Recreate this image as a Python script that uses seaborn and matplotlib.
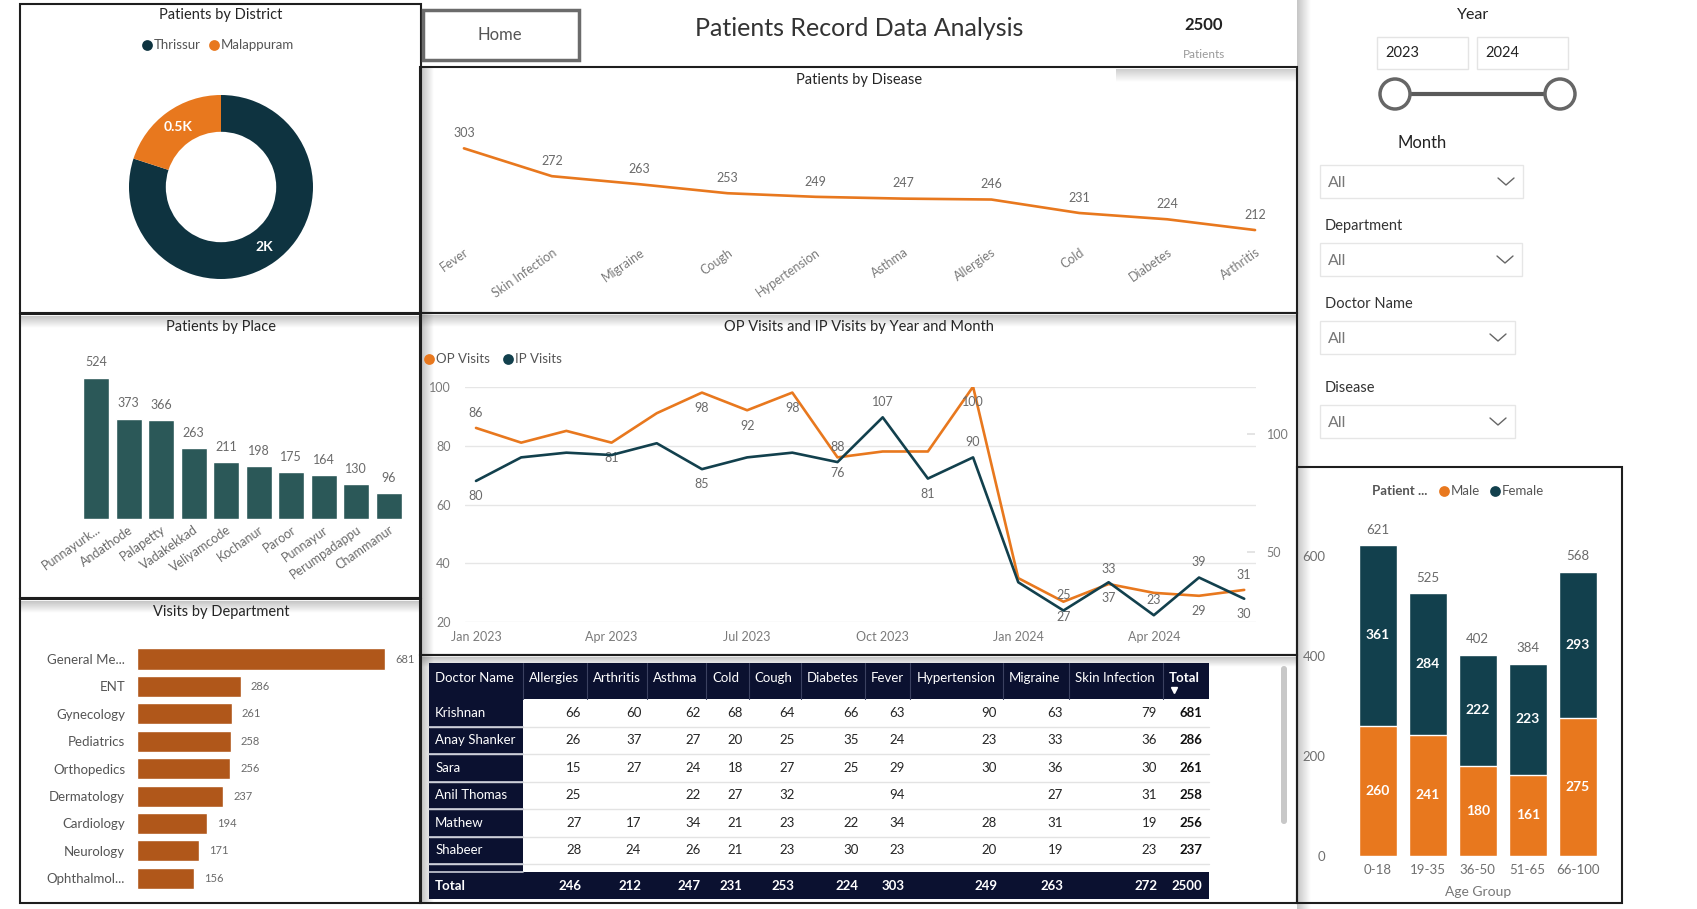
import numpy as np
import matplotlib
matplotlib.use("Agg")
import matplotlib.pyplot as plt
import seaborn as sns
from matplotlib.patches import Rectangle, Circle, FancyBboxPatch

# ---------------- data ----------------
DISTRICTS = ["Thrissur", "Malappuram"]
DISTRICT_PATIENTS = [2000, 500]

PLACES = ["Punnayurk...", "Andathode", "Palapetty", "Vadakekkad", "Veliyamcode",
          "Kochanur", "Paroor", "Punnayur", "Perumpadappu", "Chammanur"]
PLACE_PATIENTS = [524, 373, 366, 263, 211, 198, 175, 164, 130, 96]

DEPARTMENTS = ["General Me...", "ENT", "Gynecology", "Pediatrics", "Orthopedics",
               "Dermatology", "Cardiology", "Neurology", "Ophthalmol..."]
DEPT_VISITS = [681, 286, 261, 258, 256, 237, 194, 171, 156]

DISEASES = ["Fever", "Skin Infection", "Migraine", "Cough", "Hypertension",
            "Asthma", "Allergies", "Cold", "Diabetes", "Arthritis"]
DISEASE_PATIENTS = [303, 272, 263, 253, 249, 247, 246, 231, 224, 212]

MONTHS = ["Jan 2023", "Feb 2023", "Mar 2023", "Apr 2023", "May 2023", "Jun 2023",
          "Jul 2023", "Aug 2023", "Sep 2023", "Oct 2023", "Nov 2023", "Dec 2023",
          "Jan 2024", "Feb 2024", "Mar 2024", "Apr 2024", "May 2024", "Jun 2024"]
OP_VISITS = [86, 81, 85, 81, 91, 98, 92, 98, 76, 78, 78, 100, 35, 27, 33, 30, 29, 31]
IP_VISITS = [80, 90, 92, 91, 96, 85, 90, 92, 88, 107, 81, 90, 37, 25, 37, 23, 39, 30]
# which data labels Power BI shows: 1 above, -1 below, 0 hidden
OP_LABEL_SIDE = [1, 0, 0, -1, 0, -1, -1, -1, -1, 0, 0, -1, 0, -1, 1, 0, -1, 1]
IP_LABEL_SIDE = [-1, 0, 0, 0, 0, -1, 0, 0, 1, 1, -1, 1, 0, 1, -1, 1, 1, -1]

AGE_GROUPS = ["0-18", "19-35", "36-50", "51-65", "66-100"]
MALE = [260, 241, 180, 161, 275]
FEMALE = [361, 284, 222, 223, 293]

DOCTORS = ["Krishnan", "Anay Shanker", "Sara", "Anil Thomas", "Mathew", "Shabeer"]
TABLE_DISEASES = ["Allergies", "Arthritis", "Asthma", "Cold", "Cough", "Diabetes",
                  "Fever", "Hypertension", "Migraine", "Skin Infection"]
DOCTOR_COUNTS = [
    [66, 60, 62, 68, 64, 66, 63, 90, 63, 79],
    [26, 37, 27, 20, 25, 35, 24, 23, 33, 36],
    [15, 27, 24, 18, 27, 25, 29, 30, 36, 30],
    [25, None, 22, 27, 32, None, 94, None, 27, 31],
    [27, 17, 34, 21, 23, 22, 34, 28, 31, 19],
    [28, 24, 26, 21, 23, 30, 23, 20, 19, 23],
]
DISEASE_TOTALS = [246, 212, 247, 231, 253, 224, 303, 249, 263, 272]
GRAND_TOTAL = 2500

YEARS = ["2023", "2024"]

# ---------------- style ----------------
ORANGE = "#E8781E"
DARK = "#12404D"
DONUT_DARK = "#0E3340"
TEAL = "#2B5858"
BROWN = "#B0571A"
NAVY = "#0B1130"
GREY = "#6a6a6a"

sns.set_theme(style="white")
plt.rcParams["font.family"] = ["Lato", "DejaVu Sans"]

W, H = 1697, 909
fig = plt.figure(figsize=(W / 100, H / 100), dpi=100, facecolor="white")

cv = fig.add_axes([0, 0, 1, 1])
cv.set_xlim(0, W)
cv.set_ylim(H, 0)
cv.axis("off")


def px_axes(x0, y0, x1, y1):
    ax = fig.add_axes([x0 / W, 1 - y1 / H, (x1 - x0) / W, (y1 - y0) / H])
    ax.patch.set_visible(False)
    for s in ax.spines.values():
        s.set_visible(False)
    return ax


def shade(x0, y0, x1, y1, along, flip=False, strength=0.35):
    ramp = np.linspace(strength, 0, 40)
    if flip:
        ramp = ramp[::-1]
    if along == "x":
        img = np.zeros((1, 40, 4))
        img[0, :, 3] = ramp
    else:
        img = np.zeros((40, 1, 4))
        img[:, 0, 3] = ramp
    img[..., :3] = 0.35
    cv.imshow(img, extent=(x0, x1, y1, y0), aspect="auto",
              interpolation="bilinear", zorder=1)


def box(x0, y0, x1, y1, ec="#1e1e1e", lw=1.5, z=3):
    cv.add_patch(Rectangle((x0, y0), x1 - x0, y1 - y0, fill=False,
                           ec=ec, lw=lw, zorder=z))


def txt(x, y, s, size=10, color="#252525", ha="center", **kw):
    cv.text(x, y, s, fontsize=size, color=color, ha=ha, va="center", zorder=5, **kw)


def legend_row(x, y, items, step, size=9.5):
    for name, col in items:
        cv.scatter([x], [y], s=60, color=col, zorder=5, linewidths=0)
        txt(x + 7, y, name, size, "#555555", ha="left")
        x += step


# ---------------- panels, shadows ----------------
shade(422, 67, 434, 903, "x")
shade(20, 316, 420, 328, "y")
shade(20, 601, 420, 613, "y")
shade(420, 315, 1297, 327, "y")
shade(420, 657, 1297, 667, "y")
shade(1116, 69, 1296, 82, "y", strength=0.3)
shade(1297, 0, 1311, 909, "x")

box(20, 4, 421, 313)
box(20, 314, 421, 598)
box(20, 599, 421, 903)
box(420, 67, 1297, 313)
box(420, 313, 1297, 655)
box(420, 655, 1297, 903)
box(1297, 467, 1622, 903)

txt(221, 15, "Patients by District", 10.5)
txt(221, 327, "Patients by Place", 10.5)
txt(221, 612, "Visits by Department", 10.5)
txt(859, 80, "Patients by Disease", 10.5)
txt(859, 327, "OP Visits and IP Visits by Year and Month", 10.5)

# header
box(423, 10, 579, 60, ec="#6b6b6b", lw=2.5)
txt(500, 35, "Home", 12, "#555555")
txt(859, 28, "Patients Record Data Analysis", 18, "#333333")
txt(1204, 25, f"{GRAND_TOTAL}", 12, "#222222", fontweight="bold")
txt(1204, 54, "Patients", 8.5, "#999999")

# ---------------- slicers ----------------
txt(1473, 15, "Year", 11.5, "#222222")
for i, yr in enumerate(YEARS):
    x0 = 1377 + i * 100
    box(x0, 37, x0 + 91, 69, ec="#e4e4e4", lw=1)
    txt(x0 + 8, 53, yr, 10.5, "#222222", ha="left")
cv.plot([1395, 1560], [94, 94], color="#5a5a5a", lw=3, zorder=4)
for cx in (1395, 1560):
    cv.add_patch(Circle((cx, 94), 15, fc="white", ec="#666666", lw=2.5, zorder=5))

txt(1422, 143, "Month", 12, "#222222")
dropdowns = [(None, 165, 1523), ("Department", 243, 1522),
             ("Doctor Name", 321, 1515), ("Disease", 405, 1515)]
for label, y0, x1 in dropdowns:
    if label:
        txt(1325, y0 - 17, label, 10.5, "#333333", ha="left")
    box(1320, y0, x1, y0 + 33, ec="#e6e6e6", lw=1)
    txt(1328, y0 + 18, "All", 11.5, "#777777", ha="left")
    cx = x1 - 17
    cv.plot([cx - 8, cx, cx + 8], [y0 + 13, y0 + 20, y0 + 13], color="#666666",
            lw=1, zorder=5)

# ---------------- donut ----------------
ax = px_axes(121, 87, 321, 287)
total = sum(DISTRICT_PATIENTS)
wedges, _, autotexts = ax.pie(
    DISTRICT_PATIENTS, colors=[DONUT_DARK, ORANGE], startangle=90, counterclock=False,
    radius=1, wedgeprops=dict(width=0.4, edgecolor="none"), pctdistance=0.8,
    autopct=lambda p: f"{round(p * total / 100) / 1000:g}K")
for t in autotexts:
    t.set_color("white")
    t.set_fontsize(10)
    t.set_fontweight("bold")
ax.set_xlim(-100 / 92, 100 / 92)
ax.set_ylim(-100 / 92, 100 / 92)
ax.set_aspect("equal")
legend_row(147, 45, zip(DISTRICTS, [DONUT_DARK, ORANGE]), 67)

# ---------------- patients by place ----------------
ax = px_axes(79.75, 340, 404.75, 519.3)
sns.barplot(x=PLACES, y=PLACE_PATIENTS, color=TEAL, width=0.8, saturation=1, ax=ax)
ax.set_xlim(-0.5, len(PLACES) - 0.5)
ax.set_ylim(0, 663.6)
ax.set_yticks([])
ax.set_xlabel("")
ax.set_ylabel("")
ax.tick_params(axis="x", length=0, pad=3, labelsize=9, labelcolor=GREY)
for lab in ax.get_xticklabels():
    lab.set_rotation(35)
    lab.set_ha("right")
    lab.set_rotation_mode("anchor")
for i, v in enumerate(PLACE_PATIENTS):
    ax.annotate(str(v), (i, v), xytext=(0, 11), textcoords="offset points",
                ha="center", va="center", fontsize=9, color=GREY)

# ---------------- visits by department ----------------
ax = px_axes(136.7, 645.3, 410, 892)
sns.barplot(x=DEPT_VISITS, y=DEPARTMENTS, orient="h", color=BROWN, width=0.77,
            saturation=1, ax=ax)
ax.set_xlim(0, 749.6)
ax.set_ylim(len(DEPARTMENTS) - 0.5, -0.5)
ax.set_xticks([])
ax.set_xlabel("")
ax.set_ylabel("")
ax.tick_params(axis="y", length=0, pad=8.4, labelsize=9.5, labelcolor="#555555")
for i, v in enumerate(DEPT_VISITS):
    ax.annotate(str(v), (v, i), xytext=(7.2, 0), textcoords="offset points",
                ha="left", va="center", fontsize=8, color=GREY)

# ---------------- patients by disease ----------------
ax = px_axes(420, 95, 1299, 242)
sns.lineplot(x=np.arange(len(DISEASES)), y=DISEASE_PATIENTS, color=ORANGE,
             linewidth=1.9, ax=ax)
ax.set_xlim(-0.5, len(DISEASES) - 0.5)
ax.set_ylim(198.7, 362.4)
ax.set_yticks([])
ax.set_xticks(range(len(DISEASES)))
ax.set_xticklabels(DISEASES, rotation=35, ha="right", rotation_mode="anchor")
ax.tick_params(axis="x", length=0, pad=3, labelsize=9, labelcolor="#7a7a7a")
for i, v in enumerate(DISEASE_PATIENTS):
    ax.annotate(str(v), (i, v), xytext=(0, 11), textcoords="offset points",
                ha="center", va="center", fontsize=9, color=GREY)

# ---------------- OP / IP visits ----------------
ax = px_axes(464.7, 386.7, 1255.5, 622.3)
mx = np.arange(len(MONTHS))
sns.lineplot(x=mx, y=OP_VISITS, color=ORANGE, linewidth=1.9, ax=ax)
ax.set_xlim(-0.25, len(MONTHS) - 0.75)
ax.set_ylim(20, 100)
ax.set_yticks([20, 40, 60, 80, 100])
ax.set_xticks(mx[::3])
ax.set_xticklabels(MONTHS[::3])
ax.grid(axis="y", color="#e6e6e6", lw=1)
ax.set_axisbelow(True)
ax.tick_params(axis="both", length=0, labelsize=9, labelcolor="#7a7a7a")
ax.tick_params(axis="y", pad=10)
ax.tick_params(axis="x", pad=6)
ax.set_xlabel("")
ax.set_ylabel("")

ax2 = ax.twinx()
ax2.patch.set_visible(False)
for s in ax2.spines.values():
    s.set_visible(False)
sns.lineplot(x=mx, y=IP_VISITS, color=DARK, linewidth=1.9, ax=ax2)
ax2.set_ylim(20, 120)
ax2.set_yticks([50, 100])
ax2.set_ylabel("")
ax2.tick_params(axis="y", direction="in", length=6, color="#e0e0e0", pad=8,
                labelsize=9, labelcolor="#7a7a7a")

for a, vals, sides in ((ax, OP_VISITS, OP_LABEL_SIDE), (ax2, IP_VISITS, IP_LABEL_SIDE)):
    for i, (v, side) in enumerate(zip(vals, sides)):
        if side:
            a.annotate(str(v), (i, v), xytext=(0, 11 * side), textcoords="offset points",
                       ha="center", va="center", fontsize=9, color=GREY,
                       annotation_clip=False)

legend_row(429, 359, [("OP Visits", ORANGE), ("IP Visits", DARK)], 79)

# ---------------- age group stacked bars ----------------
ax = px_axes(1352.7, 500, 1602.7, 855.7)
totals = [m + f for m, f in zip(MALE, FEMALE)]
sns.barplot(x=AGE_GROUPS, y=totals, color=DARK, width=0.76, saturation=1, ax=ax)
sns.barplot(x=AGE_GROUPS, y=MALE, color=ORANGE, width=0.76, saturation=1, ax=ax)
ax.set_xlim(-0.5, len(AGE_GROUPS) - 0.5)
ax.set_ylim(0, 711)
ax.set_yticks([0, 200, 400, 600])
ax.set_xlabel("")
ax.set_ylabel("")
ax.tick_params(axis="both", length=0, labelsize=9.5, labelcolor="#6f6f6f")
ax.tick_params(axis="y", pad=19.5)
ax.tick_params(axis="x", pad=6)
for i, (m, f) in enumerate(zip(MALE, FEMALE)):
    ax.text(i, m / 2, str(m), ha="center", va="center", fontsize=10,
            color="white", fontweight="bold")
    ax.text(i, m + f / 2, str(f), ha="center", va="center", fontsize=10,
            color="white", fontweight="bold")
    ax.annotate(str(m + f), (i, m + f), xytext=(0, 11), textcoords="offset points",
                ha="center", va="center", fontsize=9.5, color=GREY)
txt(1478, 892, "Age Group", 10, "#777777")
txt(1372, 491, "Patient ...", 9.5, "#555555", ha="left", fontweight="bold")
legend_row(1444, 491, [("Male", ORANGE), ("Female", DARK)], 51)

# ---------------- doctor x disease table ----------------
col_edges = [429.2, 523.4, 587.2, 647.3, 706.4, 748.8, 800.6, 864.9, 910.4,
             1003, 1068.9, 1163, 1208.5]
head_top, head_bot, row_h = 663.3, 699.3, 27.45
total_top, total_bot = 872, 899

cv.add_patch(Rectangle((col_edges[0], head_top), col_edges[-1] - col_edges[0],
                       head_bot - head_top, fc=NAVY, ec="none", zorder=3))
cv.add_patch(Rectangle((col_edges[0], head_bot), col_edges[1] - col_edges[0],
                       total_bot - head_bot, fc=NAVY, ec="none", zorder=3))
cv.add_patch(Rectangle((col_edges[1], total_top), col_edges[-1] - col_edges[1],
                       total_bot - total_top, fc=NAVY, ec="none", zorder=3))
for xe in col_edges[1:-1]:
    cv.plot([xe, xe], [head_top, head_bot], color="#3b4160", lw=0.8, zorder=4)

headers = ["Doctor Name"] + TABLE_DISEASES + ["Total"]
for j, h in enumerate(headers):
    bold = "bold" if h == "Total" else "normal"
    txt(col_edges[j] + 6, 678, h, 9.5, "white", ha="left", fontweight=bold)
cv.plot([col_edges[-2] + 11], [690], marker="v", ms=5, color="white", zorder=5)

for i, (doc, counts) in enumerate(zip(DOCTORS, DOCTOR_COUNTS)):
    y0 = head_bot + i * row_h
    yc = y0 + row_h / 2
    cv.plot([col_edges[0], col_edges[-1]], [y0 + row_h, y0 + row_h],
            color="#e3e3e3", lw=1, zorder=4)
    cv.plot([col_edges[0], col_edges[1]], [y0 + row_h, y0 + row_h],
            color="#c9ccd6", lw=1.2, zorder=4)
    txt(col_edges[0] + 6, yc, doc, 9.5, "white", ha="left")
    for j, v in enumerate(counts):
        if v is not None:
            txt(col_edges[j + 2] - 6, yc, str(v), 9.5, "#252525", ha="right")
    txt(col_edges[-1] - 6, yc, str(sum(v for v in counts if v)), 9.5, "#111111",
        ha="right", fontweight="bold")
cv.plot([col_edges[0], col_edges[1]], [total_top, total_top], color="#c9ccd6",
        lw=1.2, zorder=4)

txt(col_edges[0] + 6, 886, "Total", 9.5, "white", ha="left", fontweight="bold")
for j, v in enumerate(DISEASE_TOTALS):
    txt(col_edges[j + 2] - 6, 886, str(v), 9.5, "white", ha="right", fontweight="bold")
txt(col_edges[-1] - 6, 886, str(GRAND_TOTAL), 9.5, "white", ha="right",
    fontweight="bold")

cv.add_patch(FancyBboxPatch((1281, 666), 6, 158, boxstyle="round,pad=0,rounding_size=3",
                            fc="#c8c8c8", ec="none", zorder=4))

cv.set_xlim(0, W)
cv.set_ylim(H, 0)

fig.savefig("out.png", dpi=100, facecolor="white")
